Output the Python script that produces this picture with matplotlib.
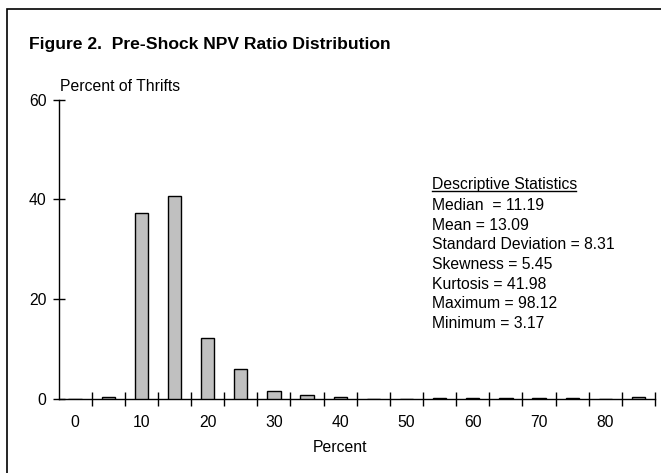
import matplotlib.pyplot as plt
import matplotlib.patches as mpatches
import numpy as np

plt.rcParams['font.family'] = ['Liberation Sans', 'DejaVu Sans']

# categorias (centro do intervalo, em %) e percentual de instituicoes
bins = [0, 5, 10, 15, 20, 25, 30, 35, 40, 45, 50, 55, 60, 65, 70, 75, 80, 85]
pct = [0, 0.3, 37.3, 40.7, 12.2, 5.9, 1.6, 0.75, 0.3, 0, 0, 0.15, 0.15, 0.15, 0.15, 0.15, 0, 0.4]
xlabels = [0, 10, 20, 30, 40, 50, 60, 70, 80]
yticks = [0, 20, 40, 60]

stats = ["Median  = 11.19", "Mean = 13.09", "Standard Deviation = 8.31",
         "Skewness = 5.45", "Kurtosis = 41.98", "Maximum = 98.12", "Minimum = 3.17"]

fig = plt.figure(figsize=(6.61, 4.73), dpi=100)
W, H = 661, 473
fs = 11.3

# moldura (sai pela direita e por baixo, como no original)
fig.patches.append(mpatches.Rectangle((7 / W, -0.1), 1.2, 1 - 9 / H + 0.1, transform=fig.transFigure,
                                      fill=False, edgecolor='black', linewidth=1.2))

ax = fig.add_axes([58.5 / W, (H - 398.7) / H, (655 - 58.5) / W, (398.7 - 99.5) / H])
ax.bar(bins, pct, width=2.0, color='#c0c0c0', edgecolor='black', linewidth=1.0, zorder=3)

ax.set_xlim(-2.5, 87.5)
ax.set_ylim(0, 60)
for s in ['top', 'right']:
    ax.spines[s].set_visible(False)
ax.spines['left'].set_linewidth(1.0)
ax.spines['bottom'].set_linewidth(1.0)

ax.set_xticks(np.arange(2.5, 88, 5))
ax.set_xticklabels([])
ax.set_xticks(xlabels, minor=True)
ax.set_xticklabels([str(v) for v in xlabels], minor=True)
ax.tick_params(axis='x', which='major', direction='inout', length=10, width=1.0)
ax.tick_params(axis='x', which='minor', length=0, pad=12, labelsize=fs)
ax.set_yticks(yticks)
ax.tick_params(axis='y', direction='inout', length=9, width=1.0, pad=4, labelsize=fs)

fig.text(29 / W, 1 - 44 / H, "Figure 2.  Pre-Shock NPV Ratio Distribution", fontsize=12.6,
         fontweight='bold', va='center', ha='left')
fig.text(60 / W, 1 - 86 / H, "Percent of Thrifts", fontsize=fs, va='center', ha='left')
fig.text(340 / W, 1 - 447 / H, "Percent", fontsize=fs, va='center', ha='center')

fig.text(432 / W, 1 - 185 / H, "Descriptive Statistics", fontsize=fs, va='center', ha='left')
fig.add_artist(plt.Line2D([432 / W, 576 / W], [1 - 191 / H, 1 - 191 / H], color='black', linewidth=1.0))
for i, s in enumerate(stats):
    fig.text(432 / W, 1 - (205.5 + i * 19.7) / H, s, fontsize=fs, va='center', ha='left')

fig.savefig('out.png', dpi=100)
